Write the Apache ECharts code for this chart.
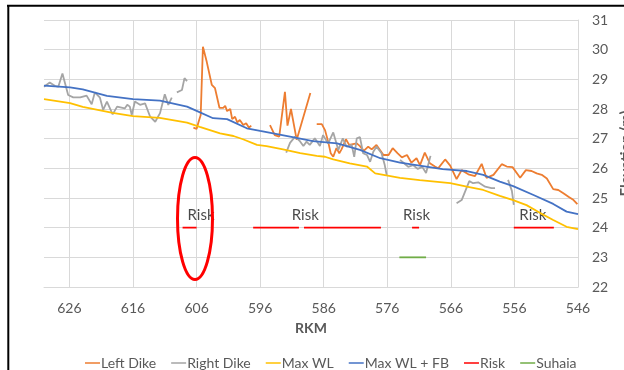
<!DOCTYPE html>
<html><head><meta charset="utf-8">
<script src="https://cdn.jsdelivr.net/npm/echarts@6/dist/echarts.min.js"></script>
<style>html,body{margin:0;padding:0;background:#fff}#c{width:624px;height:370px}</style>
</head><body><div id="c"></div>
<script>
// RKM (x) and elevation (y) pairs; null = gap in line
const leftDike = [
 [606.5,27.37],[606.0,27.33],[605.7,27.55],[605.35,27.8],[605.0,30.1],[604.4,29.59],[603.6,28.81],[603.1,28.7],[602.4,28.04],[601.8,28.04],[601.5,28.11],[601.2,27.93],[600.7,28.0],[600.4,27.66],[599.95,27.74],[599.6,27.55],[599.2,27.63],[598.65,27.46],[598.2,27.52],[597.75,27.37],[597.4,27.44],
 null,
 [594.45,27.46],[593.7,27.12],[593.0,27.07],[592.1,28.58],[591.7,27.44],[591.15,28.0],[590.25,26.96],[590.0,26.9],[588.1,28.54],
 null,
 [587.1,27.49],[586.3,27.49],[585.8,27.29],[585.3,26.9],[584.9,26.51],[584.5,26.39],[584.0,26.68],[583.55,26.51],[583.2,26.64],[582.5,26.98],[582.0,26.79],[580.8,26.84],[580.3,26.75],[579.7,26.59],[579.0,26.73],[578.45,26.64],[577.7,26.79],[577.15,26.62],[576.6,26.45],[575.8,26.45],[575.15,26.68],[574.4,26.51],[573.7,26.37],[572.9,26.45],[572.2,26.19],[571.4,26.34],[570.85,26.11],[570.1,26.53],[569.3,26.17],[568.5,26.06],[568.0,26.0],[566.9,26.3],[566.1,26.09],[565.1,25.64],[564.3,25.94],[563.25,25.8],[562.2,25.74],[561.15,26.15],[560.4,25.68],[559.3,25.78],[558.0,26.14],[557.2,26.06],[556.3,26.04],[555.1,25.68],[554.2,25.94],[553.3,25.91],[552.5,25.83],[551.7,25.78],[550.9,25.66],[549.9,25.3],[549.1,25.27],[548.3,25.16],[547.5,25.04],[546.7,24.93],[546.1,24.79]
];
const rightDike = [
 [630,28.75],[629.1,28.89],[628.3,28.78],[627.75,28.75],[627.1,29.2],[626.2,28.47],[625.4,28.39],[624.3,28.39],[623.3,28.45],[622.5,28.16],[622.0,28.56],[621.2,28.38],[620.7,27.97],[620.1,28.25],[619.2,27.82],[618.5,28.08],[617.3,28.02],[616.9,28.14],[616.5,28.08],[616.2,27.8],[615.7,28.25],[614.9,28.14],[614.1,28.19],[613.3,27.74],[612.5,27.57],[611.75,27.86],[611.0,28.5],[610.45,28.14],[609.9,28.38],
 null,
 [609.1,28.56],[608.3,28.64],[607.9,29.04],[607.5,28.94],
 null,
 [591.9,26.53],[591.3,26.86],[590.5,27.07],[589.8,26.93],[589.2,26.75],[588.7,26.9],[588.2,26.79],[587.4,27.01],[586.6,26.75],[586.1,27.12],[585.3,26.84],[584.5,27.21],[583.7,26.62],[583.0,27.01],[582.4,26.73],[581.6,26.79],[581.2,26.39],[580.8,27.01],[580.3,27.05],[579.8,26.51],[579.2,26.45],[578.7,26.22],[578.2,26.56],[577.7,26.73],[576.9,26.51],[576.4,26.11],[576.1,25.78],
 null,
 [574.0,26.28],[573.4,26.18],[572.7,26.05],[571.95,26.11],[571.2,25.98],[570.5,26.05],[569.9,25.84],[569.2,26.42],
 null,
 [565.1,24.82],[564.3,24.93],[563.1,25.57],[562.5,25.5],[561.7,25.53],[560.6,25.38],[559.6,25.33],[559.05,25.33],
 null,
 [557.0,25.61],[556.4,25.24],[556.1,24.77]
];
const maxWL = [
 [630,28.33],[625.9,28.2],[623.9,28.07],[619.2,27.87],[616,27.76],[611.8,27.7],[607.5,27.54],[605.5,27.4],[602.3,27.18],[600.2,27.09],[598.7,26.98],[596.5,26.79],[595,26.75],[592.4,26.64],[589.7,26.51],[587.1,26.42],[585.8,26.39],[584.5,26.3],[581.9,26.17],[579.2,26.06],[577.9,25.83],[576.6,25.78],[574,25.68],[570.9,25.6],[566.1,25.5],[563.5,25.38],[560.9,25.27],[558.3,25.07],[556.2,24.93],[554.1,24.76],[552,24.5],[549.9,24.26],[547.8,24.03],[546,23.95]
];
const maxWLFB = [
 [630,28.79],[625.9,28.73],[623.9,28.66],[620.1,28.44],[616,28.33],[611.75,28.28],[607.5,28.08],[605.9,27.93],[603.4,27.69],[601.2,27.66],[598.1,27.35],[596,27.26],[591.3,27.07],[587.7,26.92],[583.9,26.84],[580.3,26.62],[577.1,26.34],[574,26.19],[567.3,25.97],[563.5,25.91],[560.9,25.78],[558.3,25.55],[556.2,25.4],[553,25.1],[549.9,24.8],[547.8,24.54],[546,24.46]
];
const risk = [[608.2,24],[606,24],null,[597.1,24],[589.9,24],null,[589.1,24],[577,24],null,[572.1,24],[571,24],null,[556.1,24],[549.8,24]];
const suhaia = [[574.1,23],[569.9,23]];
const riskLabels = [[605.3,24.43],[588.9,24.43],[571.4,24.43],[553.1,24.43]];
const legendNames = ['Left Dike','Right Dike','Max WL','Max WL + FB','Risk','Suhaia'];

const FONT = 'Lato';
const GRID = '#d9d9d9';
const TXT = '#595959';
function toData(arr){ return arr.map(p => p === null ? '-' : p); }
function lineSeries(name, data, color){
  return {name, type:'line', data:toData(data), symbol:'none', connectNulls:false,
    lineStyle:{color, width:1.8}, itemStyle:{color}, animation:false, z:3};
}
const chart = echarts.init(document.getElementById('c'), null, {renderer:'canvas'});
chart.setOption({
  animation:false,
  textStyle:{fontFamily:FONT},
  grid:{left:44, right:46, top:20, bottom:83, containLabel:false, outerBoundsMode:'none'},
  xAxis:{type:'value', inverse:true, min:546, max:630, interval:10,
    axisLine:{show:true, lineStyle:{color:GRID}}, axisTick:{show:false},
    splitLine:{show:true, showMaxLine:false, lineStyle:{color:GRID, width:1}},
    axisLabel:{showMaxLabel:false, color:TXT, fontSize:14, margin:14, fontFamily:FONT},
    name:'RKM', nameLocation:'middle', nameGap:34,
    nameTextStyle:{color:TXT, fontSize:14, fontWeight:'bold', fontFamily:FONT}},
  yAxis:{type:'value', position:'right', min:22, max:31, interval:1,
    axisLine:{show:true, lineStyle:{color:GRID}}, axisTick:{show:false},
    splitLine:{show:true, lineStyle:{color:GRID, width:1}},
    axisLabel:{color:TXT, fontSize:14, margin:14, fontFamily:FONT},
    name:'Elevation (m)', nameLocation:'middle', nameRotate:90, nameGap:36,
    nameTextStyle:{color:TXT, fontSize:15, fontWeight:'bold', fontFamily:FONT}},
  legend:{data:legendNames, left:80, top:351, icon:'rect', itemWidth:15, itemHeight:1.5, itemGap:15,
    textStyle:{color:TXT, fontSize:14, fontFamily:FONT, padding:[0,0,0,-4]}},
  series:[
    lineSeries('Left Dike', leftDike, '#ED7D31'),
    lineSeries('Right Dike', rightDike, '#A5A5A5'),
    lineSeries('Max WL', maxWL, '#FFC000'),
    lineSeries('Max WL + FB', maxWLFB, '#4472C4'),
    lineSeries('Risk', risk, '#FF0000'),
    lineSeries('Suhaia', suhaia, '#70AD47'),
    {name:'riskText', type:'scatter', data:riskLabels, symbolSize:0, animation:false,
     label:{show:true, position:'inside', formatter:'Risk', color:'#1a1a1a', fontSize:15, fontFamily:FONT}}
  ],
  graphic:[
    {type:'line', shape:{x1:7, y1:5.8, x2:624, y2:5.8}, style:{stroke:'#000', lineWidth:2}},
    {type:'line', shape:{x1:8.3, y1:5, x2:8.3, y2:370}, style:{stroke:'#000', lineWidth:2}},
    {type:'ellipse', shape:{cx:195, cy:218.5, rx:17.5, ry:61}, style:{fill:'none', stroke:'#FF0000', lineWidth:3}, z:10}
  ]
});
</script></body></html>
